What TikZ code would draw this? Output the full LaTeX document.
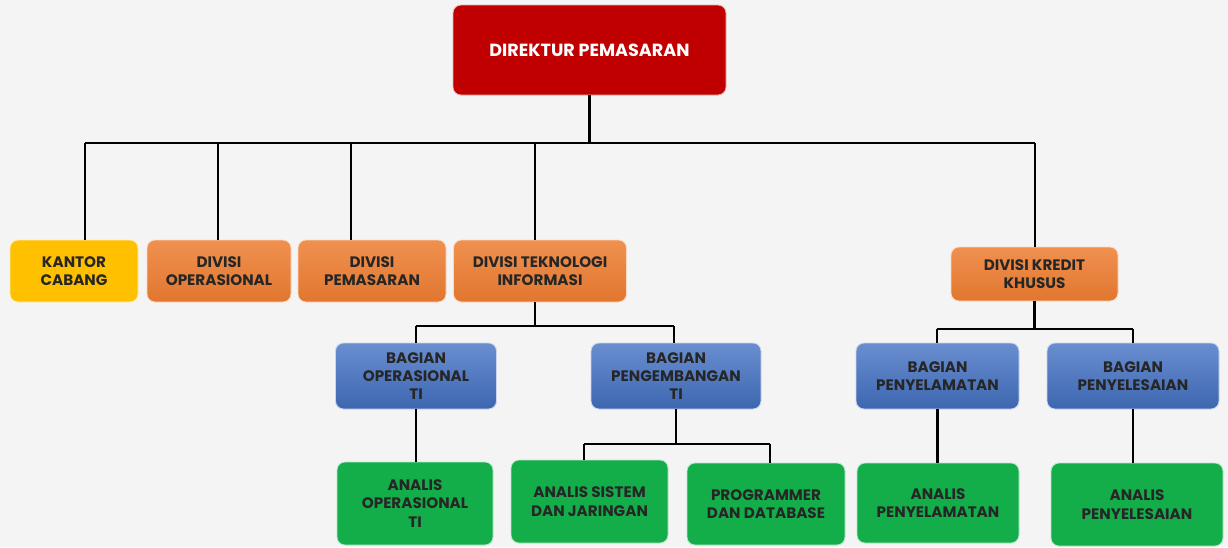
\documentclass[tikz,border=0pt]{standalone}
\usepackage{fontspec}
\setmainfont{Poppins}[BoldFont={Poppins Bold}]
\usepackage{xcolor}
\definecolor{dirred}{HTML}{C00000}
\definecolor{divorange}{HTML}{ED7D31}
\definecolor{kcyellow}{HTML}{FFC000}
\definecolor{bagblue}{HTML}{4472C4}
\definecolor{angreen}{HTML}{13AD4A}
\definecolor{bgrey}{HTML}{F4F4F4}

\begin{document}
\begin{tikzpicture}[x=0.025cm,y=-0.025cm,
  box/.style={rounded corners=0.2cm,inner sep=0pt,align=center,text=black!85,
    font=\bfseries\fontsize{10.8}{13}\selectfont,draw=white!70!#1,line width=0.6pt},
  dirbox/.style={box=dirred,fill=dirred,text=white,font=\bfseries\fontsize{12.5}{14}\selectfont},
  divbox/.style={box=divorange,top color=divorange!85!white,bottom color=divorange!95!black},
  kcbox/.style={box=kcyellow,fill=kcyellow},
  bagbox/.style={box=bagblue,top color=bagblue!80!white,bottom color=bagblue!90!black},
  anbox/.style={box=angreen,fill=angreen},
  link/.style={line width=1.7pt,black}]
\useasboundingbox (0,0) rectangle (1228,547);
\fill[bgrey] (0,0) rectangle (1228,547);

% top
\node[dirbox,minimum width=273*0.025cm,minimum height=90*0.025cm] (dir) at (589.5,50) {DIREKTUR PEMASARAN};

% divisions
\node[kcbox,minimum width=128*0.025cm,minimum height=62*0.025cm] (kc) at (74,271) {KANTOR\\CABANG};
\node[divbox,minimum width=144*0.025cm,minimum height=62*0.025cm] (divop) at (219,271) {DIVISI\\OPERASIONAL};
\node[divbox,minimum width=148*0.025cm,minimum height=62*0.025cm] (divpm) at (372,271) {DIVISI\\PEMASARAN};
\node[divbox,minimum width=173*0.025cm,minimum height=62*0.025cm] (dti) at (540,271) {DIVISI TEKNOLOGI\\INFORMASI};
\node[divbox,minimum width=167*0.025cm,minimum height=54*0.025cm] (dkk) at (1034.5,274) {DIVISI KREDIT\\KHUSUS};

% bagian
\node[bagbox,minimum width=161*0.025cm,minimum height=66*0.025cm] (bot) at (416,376) {BAGIAN\\OPERASIONAL\\TI};
\node[bagbox,minimum width=170*0.025cm,minimum height=66*0.025cm] (bpti) at (676,376) {BAGIAN\\PENGEMBANGAN\\TI};
\node[bagbox,minimum width=163*0.025cm,minimum height=66*0.025cm] (bpy) at (937.5,376) {BAGIAN\\PENYELAMATAN};
\node[bagbox,minimum width=172*0.025cm,minimum height=66*0.025cm] (bps) at (1133,376) {BAGIAN\\PENYELESAIAN};

% analis
\node[anbox,minimum width=156*0.025cm,minimum height=83*0.025cm] (aot) at (415,503.5) {ANALIS\\OPERASIONAL\\TI};
\node[anbox,minimum width=157*0.025cm,minimum height=83*0.025cm] (asj) at (589.5,501.5) {ANALIS SISTEM\\DAN JARINGAN};
\node[anbox,minimum width=158*0.025cm,minimum height=82*0.025cm] (pdb) at (766,504) {PROGRAMMER\\DAN DATABASE};
\node[anbox,minimum width=162*0.025cm,minimum height=80*0.025cm] (apy) at (938,503) {ANALIS\\PENYELAMATAN};
\node[anbox,minimum width=172*0.025cm,minimum height=83*0.025cm] (aps) at (1137,504.5) {ANALIS\\PENYELESAIAN};

% bus lines
\coordinate (b1) at (85,143);
\coordinate (b2) at (218,143);
\coordinate (b3) at (351,143);
\coordinate (b4) at (535,143);
\coordinate (b5) at (1035,143);
\draw[link] (dir.south) -- (dir.south |- b1);
\draw[link] (b1) -- (b5);
\foreach \b/\n in {b1/kc,b2/divop,b3/divpm,b4/dti,b5/dkk}
  \draw[link] (\b) -- (\b |- \n.north);

\coordinate (t0) at (535,326);
\coordinate (t1) at (416,326);
\coordinate (t2) at (674,326);
\draw[link] (t0 |- dti.south) -- (t0);
\draw[link] (t1) -- (t2);
\foreach \b/\n in {t1/bot,t2/bpti} \draw[link] (\b) -- (\b |- \n.north);

\coordinate (k1) at (937,329);
\coordinate (k2) at (1133,329);
\draw[link] (dkk.south) -- (dkk.south |- k1);
\draw[link] (k1) -- (k2);
\foreach \b/\n in {k1/bpy,k2/bps} \draw[link] (\b) -- (\b |- \n.north);

\coordinate (p1) at (584,444);
\coordinate (p2) at (770,444);
\draw[link] (bpti.south) -- (bpti.south |- p1);
\draw[link] (p1) -- (p2);
\foreach \b/\n in {p1/asj,p2/pdb} \draw[link] (\b) -- (\b |- \n.north);

\draw[link] (bot.south) -- (bot.south |- aot.north);
\draw[link] (bpy.south) -- (bpy.south |- apy.north);
\draw[link] (bps.south) -- (bps.south |- aps.north);
\end{tikzpicture}
\end{document}
